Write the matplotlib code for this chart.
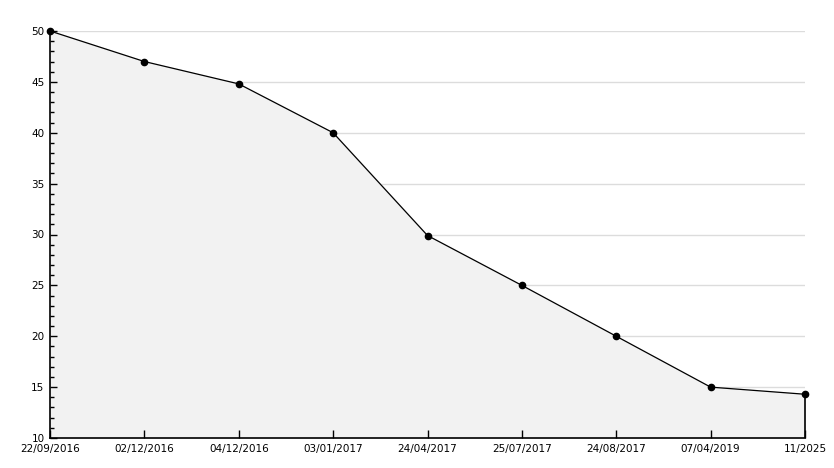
import numpy as np
import matplotlib
matplotlib.use('Agg')
import matplotlib.pyplot as plt
from matplotlib.ticker import MultipleLocator

# chart data
dates = ['22/09/2016', '02/12/2016', '04/12/2016', '03/01/2017', '24/04/2017',
         '25/07/2017', '24/08/2017', '07/04/2019', '11/2025']
values = [50, 47, 44.8, 40, 29.9, 25, 20, 15, 14.3]

x = np.arange(len(dates))

fig = plt.figure(figsize=(8.34, 4.68), dpi=100)
ax = fig.add_axes([50/834., 30/468., 755/834., 407/468.])

# gridlines every 5
for yv in range(15, 51, 5):
    ax.axhline(yv, color='#dcdcdc', lw=1, zorder=0)

ax.fill_between(x, values, 10, color='#f2f2f2', zorder=1)
ax.plot(x, values, 'k-', lw=0.9, zorder=3)
ax.plot(x, values, 'o', color='black', ms=4.5, zorder=4, clip_on=False)
ax.vlines(x[-1], 10, values[-1], color='black', lw=1.2, zorder=3,
          clip_on=False)

ax.set_xlim(0, len(dates) - 1)
ax.set_ylim(10, 50)
ax.set_xticks(x)
ax.set_xticklabels(dates)
ax.yaxis.set_major_locator(MultipleLocator(5))
ax.yaxis.set_minor_locator(MultipleLocator(1))

for s in ['top', 'right']:
    ax.spines[s].set_visible(False)
ax.spines['left'].set_linewidth(1.2)
ax.spines['bottom'].set_linewidth(1.2)

ax.tick_params(axis='x', direction='in', length=6, width=1, labelsize=7.5, pad=4)
ax.tick_params(axis='y', which='major', direction='in', length=5, width=1,
               labelsize=7.5, pad=4)
ax.tick_params(axis='y', which='minor', direction='in', length=3, width=1)

# the bottom "10" sits a little higher in the original
ax.get_yticklabels()[0].set_va('bottom')

fig.savefig('out.png', dpi=100)
